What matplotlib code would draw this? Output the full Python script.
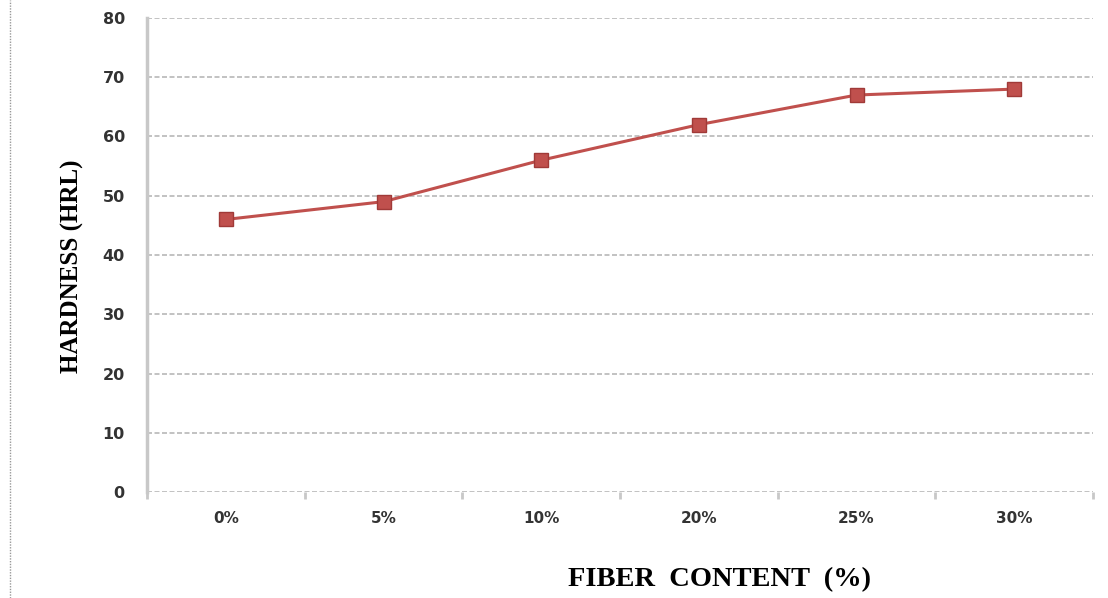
import matplotlib
matplotlib.use("Agg")
import matplotlib.pyplot as plt
from matplotlib.lines import Line2D
import numpy as np

categories = ["0%", "5%", "10%", "20%", "25%", "30%"]
hardness = [46, 49, 56, 62, 67, 68]
y_ticks = [0, 10, 20, 30, 40, 50, 60, 70, 80]

fig = plt.figure(figsize=(11.08, 5.98), dpi=100)
ax = fig.add_axes([147 / 1108, 1 - 492 / 598, (1093 - 147) / 1108, (492 - 18) / 598])

x = np.arange(len(categories))
ax.plot(x, hardness, color="#c0504d", linewidth=2.2, marker="s", markersize=10.5,
        markerfacecolor="#c0504d", markeredgecolor="#a03a38", markeredgewidth=1, zorder=3)

ax.set_xlim(-0.5, len(categories) - 0.5)
ax.set_ylim(0, 80)
ax.set_yticks(y_ticks)
ax.set_yticklabels([str(v) for v in y_ticks], fontsize=11.5, fontweight="bold", color="#333333",
                   family="DejaVu Sans")
ax.set_xticks(x)
ax.set_xticklabels(categories, fontsize=11, fontweight="bold", color="#333333", family="DejaVu Sans")
ax.set_xticks(np.arange(-0.5, len(categories), 1.0), minor=True)

ax.tick_params(axis="y", length=0, pad=16)
ax.tick_params(axis="x", which="major", length=0, pad=14)
ax.tick_params(axis="x", which="minor", length=5, width=2, color="#c8c8c8")

for v in y_ticks:
    ax.axhline(v, color="#b8b8b8", linewidth=1.2, linestyle=(0, (3, 1.5)), zorder=1)

for side in ["top", "right", "bottom"]:
    ax.spines[side].set_visible(False)
ax.spines["left"].set_color("#c8c8c8")
ax.spines["left"].set_linewidth(2.5)

fig.text(72 / 1108, 1 - 266 / 598, "HARDNESS (HRL)", family="Liberation Serif", fontsize=18,
         fontweight="bold", rotation=90, ha="center", va="center")
fig.text(720 / 1108, 1 - 580 / 598, "FIBER  CONTENT  (%)", family="Liberation Serif",
         fontsize=20.5, fontweight="bold", ha="center", va="center")

fig.add_artist(Line2D([10 / 1108, 10 / 1108], [0, 1], color="#999999", linewidth=1,
                      linestyle=(0, (1, 1)), transform=fig.transFigure))

fig.savefig("out.png", dpi=100)
